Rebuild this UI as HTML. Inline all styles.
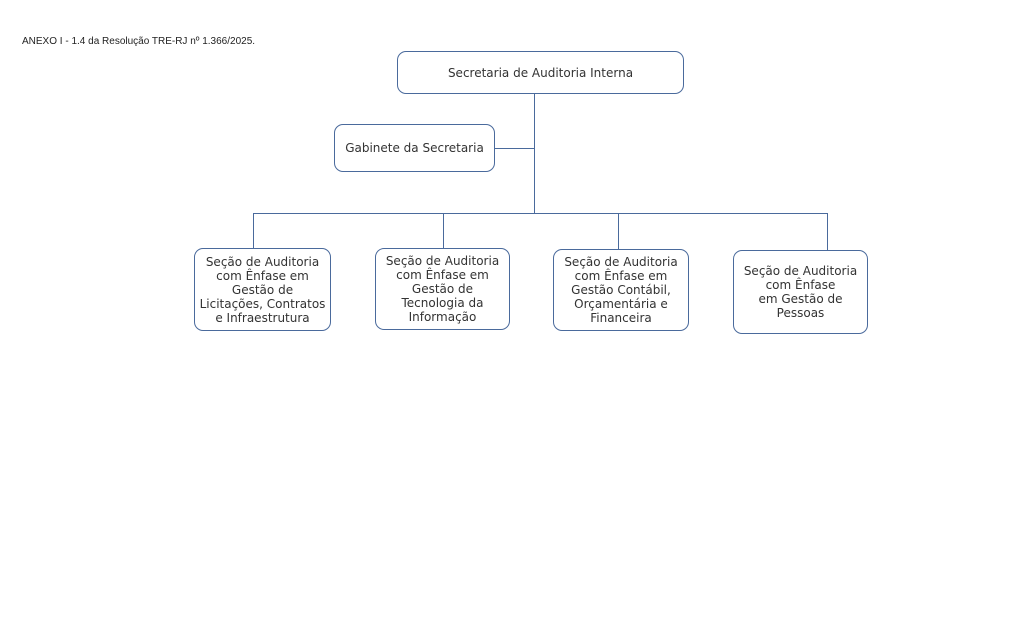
<!DOCTYPE html>
<html><head><meta charset="utf-8"><style>
body{margin:0;width:1018px;height:618px;background:#fff;position:relative;font-family:"DejaVu Sans","Liberation Sans",sans-serif;color:#333}
.b{position:absolute;border:1px solid #4a6a9c;border-radius:9px;display:flex;align-items:center;justify-content:center;text-align:center;font-size:12px;line-height:14px;box-sizing:border-box;background:#fff}
.l{position:absolute;background:#4a6a9c}
</style></head><body>
<div style="position:absolute;left:22px;top:36px;font-size:10px;color:#222;font-family:'Liberation Sans',sans-serif">ANEXO I - 1.4 da Resolução TRE-RJ nº 1.366/2025.</div>
<div class="l" style="left:534px;top:94px;width:1px;height:120px"></div>
<div class="l" style="left:494px;top:148px;width:40px;height:1px"></div>
<div class="l" style="left:253px;top:213px;width:575px;height:1px"></div>
<div class="l" style="left:253px;top:213px;width:1px;height:35px"></div>
<div class="l" style="left:443px;top:213px;width:1px;height:35px"></div>
<div class="l" style="left:618px;top:213px;width:1px;height:36px"></div>
<div class="l" style="left:827px;top:213px;width:1px;height:37px"></div>
<div class="b" style="left:397px;top:51px;width:287px;height:43px;font-size:12px">Secretaria de Auditoria Interna</div>
<div class="b" style="left:334px;top:124px;width:161px;height:48px;font-size:12px">Gabinete da Secretaria</div>
<div class="b" style="left:194px;top:248px;width:137px;height:83px">Seção de Auditoria<br>com Ênfase em<br>Gestão de<br>Licitações, Contratos<br>e Infraestrutura</div>
<div class="b" style="left:375px;top:248px;width:135px;height:82px;align-items:flex-start;padding-top:5px">Seção de Auditoria<br>com Ênfase em<br>Gestão de<br>Tecnologia da<br>Informação</div>
<div class="b" style="left:553px;top:249px;width:136px;height:82px">Seção de Auditoria<br>com Ênfase em<br>Gestão Contábil,<br>Orçamentária e<br>Financeira</div>
<div class="b" style="left:733px;top:250px;width:135px;height:84px">Seção de Auditoria<br>com Ênfase<br>em Gestão de<br>Pessoas</div>
</body></html>
